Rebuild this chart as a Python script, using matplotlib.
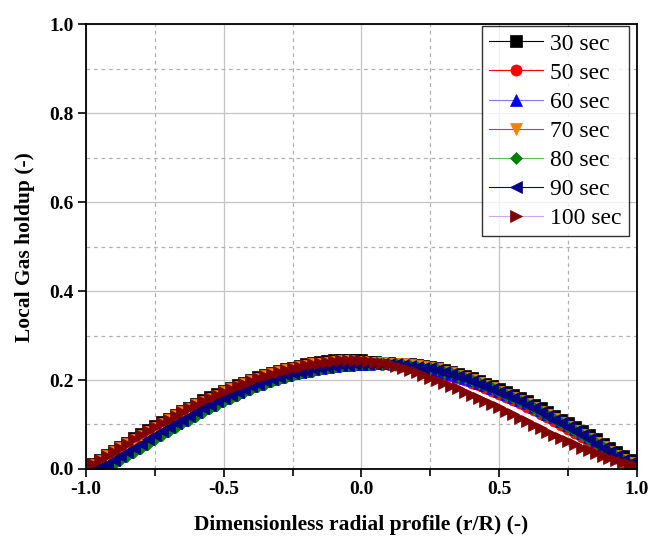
import numpy as np
import matplotlib
matplotlib.use("Agg")
import matplotlib.pyplot as plt
from matplotlib.ticker import MultipleLocator

# radial positions (r/R)
r = [-1.000, -0.975, -0.950, -0.925, -0.900, -0.875, -0.850, -0.825, -0.800, -0.775,
     -0.750, -0.725, -0.700, -0.675, -0.650, -0.625, -0.600, -0.575, -0.550, -0.525,
     -0.500, -0.475, -0.450, -0.425, -0.400, -0.375, -0.350, -0.325, -0.300, -0.275,
     -0.250, -0.225, -0.200, -0.175, -0.150, -0.125, -0.100, -0.075, -0.050, -0.025,
     0.000,
     0.025, 0.050, 0.075, 0.100, 0.125, 0.150, 0.175, 0.200, 0.225, 0.250,
     0.275, 0.300, 0.325, 0.350, 0.375, 0.400, 0.425, 0.450, 0.475, 0.500,
     0.525, 0.550, 0.575, 0.600, 0.625, 0.650, 0.675, 0.700, 0.725, 0.750,
     0.775, 0.800, 0.825, 0.850, 0.875, 0.900, 0.925, 0.950, 0.975, 1.000]

# local gas holdup for each time
h30 = [0.006, 0.012, 0.021, 0.031, 0.040, 0.050, 0.059, 0.069, 0.078, 0.087,
       0.096, 0.105, 0.113, 0.122, 0.130, 0.138, 0.146, 0.154, 0.161, 0.168,
       0.175, 0.182, 0.188, 0.194, 0.200, 0.206, 0.211, 0.216, 0.220, 0.225,
       0.228, 0.232, 0.235, 0.238, 0.240, 0.242, 0.244, 0.245, 0.246, 0.246,
       0.244,
       0.241, 0.240, 0.239, 0.238, 0.237, 0.236, 0.235, 0.233, 0.231, 0.229,
       0.226, 0.223, 0.218, 0.214, 0.209, 0.204, 0.198, 0.192, 0.186, 0.180,
       0.173, 0.166, 0.159, 0.152, 0.144, 0.136, 0.128, 0.120, 0.111, 0.103,
       0.094, 0.085, 0.076, 0.067, 0.057, 0.048, 0.038, 0.029, 0.019, 0.010]

h50 = [0.003, 0.004, 0.010, 0.019, 0.029, 0.038, 0.048, 0.057, 0.067, 0.076,
       0.085, 0.094, 0.103, 0.111, 0.120, 0.128, 0.136, 0.144, 0.152, 0.159,
       0.166, 0.173, 0.180, 0.186, 0.192, 0.198, 0.204, 0.209, 0.211, 0.215,
       0.218, 0.221, 0.224, 0.227, 0.229, 0.231, 0.233, 0.235, 0.236, 0.237,
       0.238,
       0.238, 0.238, 0.237, 0.236, 0.234, 0.232, 0.230, 0.228, 0.225, 0.222,
       0.219, 0.214, 0.210, 0.205, 0.200, 0.194, 0.188, 0.182, 0.176, 0.169,
       0.162, 0.155, 0.148, 0.140, 0.132, 0.124, 0.116, 0.107, 0.099, 0.090,
       0.081, 0.072, 0.063, 0.053, 0.044, 0.034, 0.025, 0.016, 0.009, 0.005]

h60 = [0.002, 0.003, 0.005, 0.010, 0.019, 0.029, 0.038, 0.048, 0.057, 0.067,
       0.076, 0.085, 0.094, 0.103, 0.111, 0.120, 0.128, 0.136, 0.144, 0.152,
       0.159, 0.166, 0.173, 0.180, 0.186, 0.192, 0.198, 0.203, 0.207, 0.211,
       0.215, 0.218, 0.221, 0.224, 0.227, 0.229, 0.231, 0.233, 0.234, 0.235,
       0.236,
       0.237, 0.238, 0.238, 0.238, 0.237, 0.236, 0.235, 0.233, 0.231, 0.227,
       0.222, 0.219, 0.214, 0.210, 0.205, 0.200, 0.194, 0.188, 0.182, 0.176,
       0.169, 0.162, 0.155, 0.148, 0.140, 0.132, 0.124, 0.116, 0.107, 0.099,
       0.090, 0.081, 0.072, 0.063, 0.053, 0.044, 0.034, 0.025, 0.015, 0.008]

h70 = [0.003, 0.009, 0.018, 0.028, 0.037, 0.047, 0.056, 0.066, 0.075, 0.084,
       0.093, 0.102, 0.110, 0.119, 0.127, 0.135, 0.143, 0.151, 0.158, 0.165,
       0.172, 0.179, 0.185, 0.191, 0.197, 0.203, 0.208, 0.213, 0.217, 0.222,
       0.225, 0.229, 0.232, 0.235, 0.237, 0.239, 0.241, 0.242, 0.242, 0.241,
       0.240,
       0.238, 0.238, 0.238, 0.237, 0.236, 0.235, 0.233, 0.231, 0.229, 0.227,
       0.224, 0.219, 0.215, 0.210, 0.205, 0.199, 0.193, 0.187, 0.181, 0.174,
       0.167, 0.160, 0.153, 0.145, 0.137, 0.129, 0.121, 0.112, 0.104, 0.095,
       0.086, 0.077, 0.068, 0.058, 0.049, 0.039, 0.030, 0.021, 0.014, 0.009]

h80 = [0.002, 0.002, 0.003, 0.004, 0.010, 0.019, 0.029, 0.038, 0.048, 0.057,
       0.067, 0.076, 0.085, 0.094, 0.103, 0.111, 0.120, 0.128, 0.136, 0.144,
       0.152, 0.159, 0.166, 0.173, 0.180, 0.186, 0.192, 0.198, 0.202, 0.207,
       0.211, 0.215, 0.218, 0.221, 0.224, 0.227, 0.229, 0.231, 0.233, 0.234,
       0.235,
       0.236, 0.236, 0.236, 0.236, 0.235, 0.234, 0.232, 0.230, 0.228, 0.226,
       0.224, 0.219, 0.215, 0.210, 0.205, 0.199, 0.193, 0.187, 0.181, 0.174,
       0.167, 0.160, 0.153, 0.145, 0.137, 0.129, 0.121, 0.112, 0.104, 0.095,
       0.086, 0.077, 0.068, 0.058, 0.049, 0.039, 0.030, 0.020, 0.011, 0.005]

h90 = [0.002, 0.003, 0.004, 0.010, 0.019, 0.029, 0.038, 0.048, 0.057, 0.067,
       0.076, 0.085, 0.094, 0.103, 0.111, 0.120, 0.128, 0.136, 0.144, 0.152,
       0.159, 0.166, 0.173, 0.180, 0.186, 0.192, 0.198, 0.203, 0.207, 0.211,
       0.215, 0.218, 0.221, 0.224, 0.227, 0.229, 0.231, 0.233, 0.234, 0.235,
       0.236,
       0.237, 0.237, 0.237, 0.236, 0.235, 0.234, 0.232, 0.230, 0.228, 0.226,
       0.223, 0.218, 0.214, 0.209, 0.204, 0.198, 0.192, 0.186, 0.180, 0.173,
       0.166, 0.159, 0.152, 0.144, 0.136, 0.128, 0.120, 0.111, 0.103, 0.094,
       0.085, 0.076, 0.067, 0.057, 0.048, 0.038, 0.029, 0.020, 0.013, 0.008]

h100 = [0.004, 0.010, 0.019, 0.029, 0.038, 0.048, 0.057, 0.067, 0.076, 0.085,
        0.094, 0.103, 0.111, 0.120, 0.128, 0.136, 0.144, 0.152, 0.159, 0.166,
        0.173, 0.180, 0.186, 0.192, 0.198, 0.204, 0.209, 0.214, 0.218, 0.223,
        0.226, 0.230, 0.233, 0.236, 0.238, 0.240, 0.243, 0.244, 0.245, 0.245,
        0.244,
        0.243, 0.241, 0.238, 0.235, 0.231, 0.227, 0.222, 0.217, 0.211, 0.205,
        0.199, 0.193, 0.187, 0.181, 0.174, 0.167, 0.160, 0.153, 0.146, 0.139,
        0.131, 0.123, 0.115, 0.107, 0.099, 0.091, 0.083, 0.076, 0.069, 0.062,
        0.055, 0.048, 0.042, 0.036, 0.030, 0.025, 0.020, 0.015, 0.010, 0.006]

labels = ['30 sec', '50 sec', '60 sec', '70 sec', '80 sec', '90 sec', '100 sec']
series = [h30, h50, h60, h70, h80, h90, h100]

# (marker, marker colour, line colour)
styles = [('s', '#000000', '#000000'),
          ('o', '#ff0000', '#ff0000'),
          ('^', '#0000ff', '#7b7bff'),
          ('v', '#ff8000', '#ff00ff'),
          ('D', '#008000', '#5fbf5f'),
          ('<', '#000080', '#000080'),
          ('>', '#800000', '#d2a6f0')]

plt.rcParams['font.family'] = ['Liberation Serif', 'DejaVu Serif']
plt.rcParams['axes.unicode_minus'] = False

fig = plt.figure(figsize=(6.49, 5.44), dpi=100)
ax = fig.add_axes([0.1325, 0.138, 0.849, 0.817])

for y, lab, (m, mc, lc) in zip(series, labels, styles):
    ms = 6.5 if m == 'D' else 8
    ax.plot(r, y, color=lc, lw=0.8, marker=m, ms=ms, mfc=mc, mec=mc,
            mew=0.5, label=lab)

ax.set_xlim(-1, 1)
ax.set_ylim(0, 1)
ax.xaxis.set_major_locator(MultipleLocator(0.5))
ax.xaxis.set_minor_locator(MultipleLocator(0.25))
ax.yaxis.set_major_locator(MultipleLocator(0.2))
ax.yaxis.set_minor_locator(MultipleLocator(0.1))

ax.grid(which='major', color='#c4c4c4', lw=0.9, ls='-')
ax.grid(which='minor', color='#b0b0b0', lw=0.9, ls=(0, (3, 3)))
ax.set_axisbelow(True)

ax.tick_params(which='major', direction='out', length=6, width=1.2,
               labelsize=14, pad=3)
ax.tick_params(axis='x', which='minor', direction='out', length=5, width=1.2)
ax.tick_params(axis='y', which='minor', length=0)
for lbl in ax.get_xticklabels() + ax.get_yticklabels():
    lbl.set_fontweight('bold')
for sp in ax.spines.values():
    sp.set_linewidth(1.3)

ax.set_xlabel('Dimensionless radial profile (r/R) (-)', fontsize=15.5,
              fontweight='bold', labelpad=12)
ax.set_ylabel('Local Gas holdup (-)', fontsize=15.5, fontweight='bold',
              labelpad=10)

leg = ax.legend(loc='upper right', bbox_to_anchor=(0.9855, 0.9966),
                fontsize=17, frameon=True, fancybox=False, edgecolor='black',
                handlelength=2.3, handletextpad=0.3, labelspacing=0.32,
                borderpad=0.3, borderaxespad=0)
leg.get_frame().set_linewidth(1.0)

fig.savefig('out.png', dpi=100)
